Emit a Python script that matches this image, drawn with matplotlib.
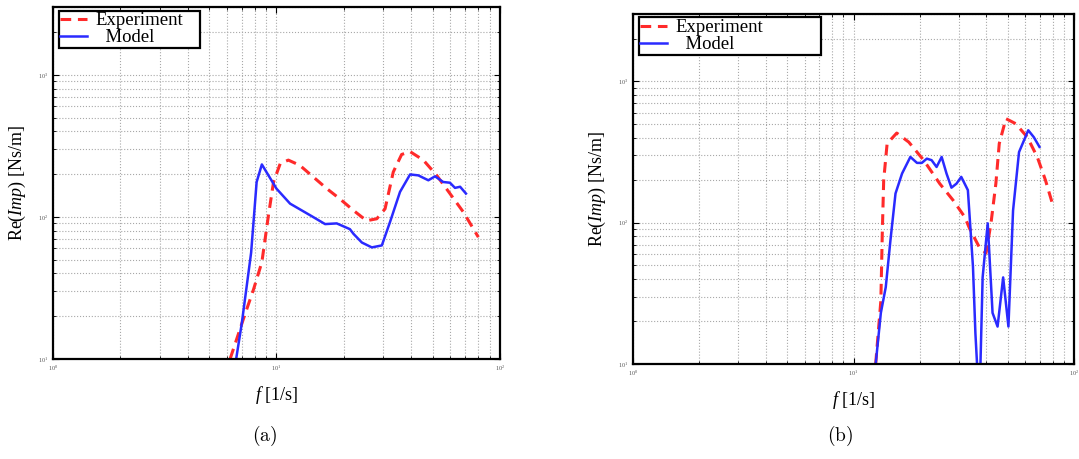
import matplotlib
matplotlib.use("Agg")
import matplotlib.pyplot as plt
from matplotlib.ticker import LogLocator, NullFormatter

plt.rcParams["font.family"] = "Liberation Serif"
plt.rcParams["mathtext.fontset"] = "custom"
plt.rcParams["mathtext.rm"] = "Liberation Serif"
plt.rcParams["mathtext.it"] = "Liberation Serif:italic"

# (a) values
f_exp_a = [6.2, 7.1, 7.9, 8.6, 9.2, 9.7, 10.4, 11.3, 12.7, 16.8, 19.2, 20.6, 22.1, 25.3, 28.1,
           30.6, 33.3, 36.3, 39.6, 45.4, 52.1, 59.7, 68.6, 80.0]
y_exp_a = [10, 19, 31, 48, 102, 176, 238, 251, 231, 158, 134, 122, 111, 94, 97,
           114, 207, 275, 288, 251, 196, 146, 108, 72]
f_mod_a = [6.6, 7.0, 7.7, 8.15, 8.6, 10.0, 11.5, 14.4, 16.5, 18.6, 21.3, 22.1, 24.1, 26.7, 29.6,
           32.2, 35.7, 39.6, 43.1, 47.8, 51.2, 55.7, 59.7, 62.9, 66.3, 70.4]
y_mod_a = [10, 18, 56, 176, 234, 158, 124, 101, 89, 90, 82, 76, 66, 61, 63,
           92, 150, 199, 196, 181, 193, 176, 174, 160, 163, 146]

# (b)
f_exp_b = [12.6, 13.3, 13.5, 13.7, 14.2, 15.7, 17.8, 20.8, 24.6, 28.3, 31.9, 33.6, 37.2, 39.9,
           42.0, 44.2, 45.8, 49.1, 54.4, 61.4, 68.1, 74.2, 79.4]
y_exp_b = [10, 28, 84, 200, 363, 431, 372, 277, 189, 144, 110, 91, 67, 61,
           99, 189, 363, 545, 502, 403, 292, 200, 140]
f_mod_b = [12.6, 13.3, 14.0, 14.7, 15.5, 16.6, 18.1, 19.4, 20.4, 21.5, 22.6, 23.8, 25.1, 26.4,
           27.8, 29.3, 30.8, 33.0, 34.8, 35.7, 36.6, 37.5, 38.5, 40.6, 42.7, 45.0, 47.7, 50.4,
           52.9, 56.3, 62.0, 65.7, 69.7]
y_mod_b = [10, 23, 35, 75, 161, 223, 292, 265, 265, 284, 277, 248, 292, 223,
           177, 189, 211, 170, 49, 16.5, 8, 8, 41, 99, 23, 18.4, 41, 18.4,
           122, 316, 451, 403, 344]

panels = [
    ([0.0491, 0.2179, 0.4143, 0.7668], f_exp_a, y_exp_a, f_mod_a, y_mod_a, 0.316, "(a)", 0.245),
    ([0.5867, 0.2070, 0.4087, 0.7625], f_exp_b, y_exp_b, f_mod_b, y_mod_b, 0.413, "(b)", 0.7785),
]

fig = plt.figure(figsize=(10.79, 4.59), dpi=100)

for rect, fe, ye, fm, ym, legw, cap, capx in panels:
    ax = fig.add_axes(rect)
    ax.set_xscale("log")
    ax.set_yscale("log")
    ax.plot(fe, ye, color="#ff2a2a", lw=2.2, ls=(0, (3.5, 2.2)), label="Experiment")
    ax.plot(fm, ym, color="#2a2aff", lw=1.8, label="  Model")
    ax.set_xlim(1, 100)
    ax.set_ylim(10, 3000)
    ax.set_xticks([1, 10, 100])
    ax.xaxis.set_minor_locator(LogLocator(base=10, subs=range(2, 10)))
    ax.yaxis.set_minor_locator(LogLocator(base=10, subs=range(2, 10)))
    ax.xaxis.set_minor_formatter(NullFormatter())
    ax.yaxis.set_minor_formatter(NullFormatter())
    ax.grid(True, which="both", ls=":", color="#a8a8a8", lw=0.8)
    ax.tick_params(which="both", direction="in", top=True, right=True,
                   labelsize=4.5, labelcolor="#555555")
    ax.tick_params(which="major", length=4)
    ax.tick_params(which="minor", length=2)
    for s in ax.spines.values():
        s.set_linewidth(1.6)
    ax.set_xlabel(r"$f$ [1/s]", fontsize=13, labelpad=8)
    ax.set_ylabel(r"Re($Imp$) [Ns/m]", fontsize=13, labelpad=7)
    leg = ax.legend(loc="upper left", bbox_to_anchor=(0.013, 0.99, legw, 0.0),
                    mode="expand", fontsize=13.5, labelspacing=0.0, handlelength=1.4,
                    handletextpad=0.5, borderpad=0.08, borderaxespad=0.0,
                    fancybox=False, framealpha=1)
    leg.get_frame().set_edgecolor("black")
    leg.get_frame().set_linewidth(1.6)
    if cap == "(b)":
        # the 10^2 label sits on the figure edge; keep it inside
        for t in ax.xaxis.get_major_ticks():
            if abs(t.get_loc() - 100) < 1e-6:
                t.label1.set_horizontalalignment("right")
    fig.text(capx, 0.04, r"$\mathrm{" + cap + "}$", fontsize=14, ha="center",
             math_fontfamily="cm")

fig.savefig("out.png", dpi=100)
